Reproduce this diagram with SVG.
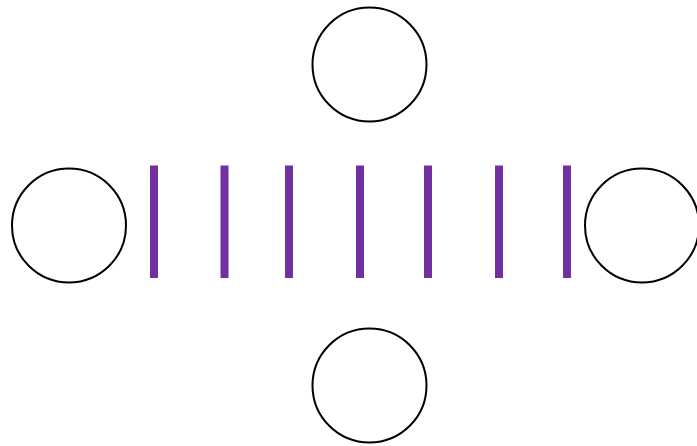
<svg xmlns="http://www.w3.org/2000/svg" width="697" height="446" viewBox="0 0 697 446">
<style>
.n{fill:#fff;stroke:#000;stroke-width:2}
.b{fill:#7030a0}
</style>
<rect width="697" height="446" fill="#fff"/>
<g id="top"><circle class="n" cx="369.5" cy="64.5" r="57"/></g>
<g id="left"><circle class="n" cx="69" cy="225.5" r="57"/></g>
<g id="right"><circle class="n" cx="642" cy="225.5" r="57"/></g>
<g id="bottom"><circle class="n" cx="369.5" cy="385.5" r="57"/></g>
<g id="bars">
<rect class="b" x="150" y="165.5" width="8" height="112.5"/>
<rect class="b" x="220.5" y="165.5" width="8" height="112.5"/>
<rect class="b" x="285" y="165.5" width="8" height="112.5"/>
<rect class="b" x="356" y="165.5" width="8" height="112.5"/>
<rect class="b" x="424" y="165.5" width="8" height="112.5"/>
<rect class="b" x="495" y="165.5" width="8" height="112.5"/>
<rect class="b" x="563" y="165.5" width="8" height="112.5"/>
</g>
</svg>
